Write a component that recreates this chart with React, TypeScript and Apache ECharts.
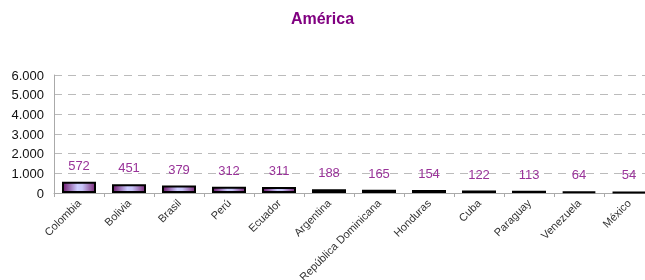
import React, { useEffect, useRef } from "react";
import * as echarts from "echarts";

const countries = ["Colombia", "Bolivia", "Brasil", "Perú", "Ecuador", "Argentina", "República Dominicana", "Honduras", "Cuba", "Paraguay", "Venezuela", "México"];
const values = [572, 451, 379, 312, 311, 188, 165, 154, 122, 113, 64, 54];
const yTicks = [0, 1000, 2000, 3000, 4000, 5000, 6000];

const fmt = (v: number) => String(v).replace(/\B(?=(\d{3})+(?!\d))/g, ".");

export default function App() {
  const ref = useRef<HTMLDivElement>(null);
  useEffect(() => {
    if (!ref.current) return;
    const chart = echarts.init(ref.current, null, { renderer: "svg" });
    chart.setOption({
      animation: false,
      title: {
        text: "América",
        left: "center",
        top: 5,
        textStyle: { color: "#800080", fontSize: 16, fontWeight: "bold", fontFamily: "Liberation Sans, Arial, sans-serif" },
      },
      grid: { left: 54, top: 75, width: 600, height: 118, containLabel: false, outerBoundsMode: "none" },
      xAxis: {
        type: "category",
        data: countries,
        boundaryGap: true,
        axisLine: { lineStyle: { color: "#aaaaaa", width: 1 } },
        axisTick: { show: true, alignWithLabel: false, length: 4, lineStyle: { color: "#aaaaaa" } },
        axisLabel: {
          rotate: 45,
          interval: 0,
          margin: 8,
          fontSize: 11,
          color: "#333",
          fontFamily: "Liberation Sans, Arial, sans-serif",
        },
      },
      yAxis: {
        type: "value",
        min: yTicks[0],
        max: yTicks[yTicks.length - 1],
        interval: 1000,
        axisLine: { show: true, lineStyle: { color: "#aaaaaa" } },
        axisTick: { show: false },
        splitLine: { show: true, lineStyle: { color: "#bbbbbb", type: [8, 6] } },
        axisLabel: {
          formatter: (v: number) => fmt(v),
          fontSize: 13,
          color: "#111",
          margin: 10,
          fontFamily: "Liberation Sans, Arial, sans-serif",
        },
      },
      series: [
        {
          type: "bar",
          data: values,
          barWidth: 34,
          itemStyle: {
            borderColor: "#000",
            borderWidth: 2,
            color: new echarts.graphic.LinearGradient(0, 0, 1, 0, [
              { offset: 0, color: "#6e1a6e" },
              { offset: 0.45, color: "#ccccff" },
              { offset: 0.6, color: "#c8c4f8" },
              { offset: 1, color: "#7a2a7a" },
            ]),
          },
          label: {
            show: true,
            position: "top",
            distance: 10,
            fontSize: 13,
            color: "#993399",
            fontFamily: "Liberation Sans, Arial, sans-serif",
          },
        },
      ],
    });
    return () => chart.dispose();
  }, []);
  return <div ref={ref} style={{ position: "fixed", left: 0, top: 0, width: 645, height: 280 }} />;
}
